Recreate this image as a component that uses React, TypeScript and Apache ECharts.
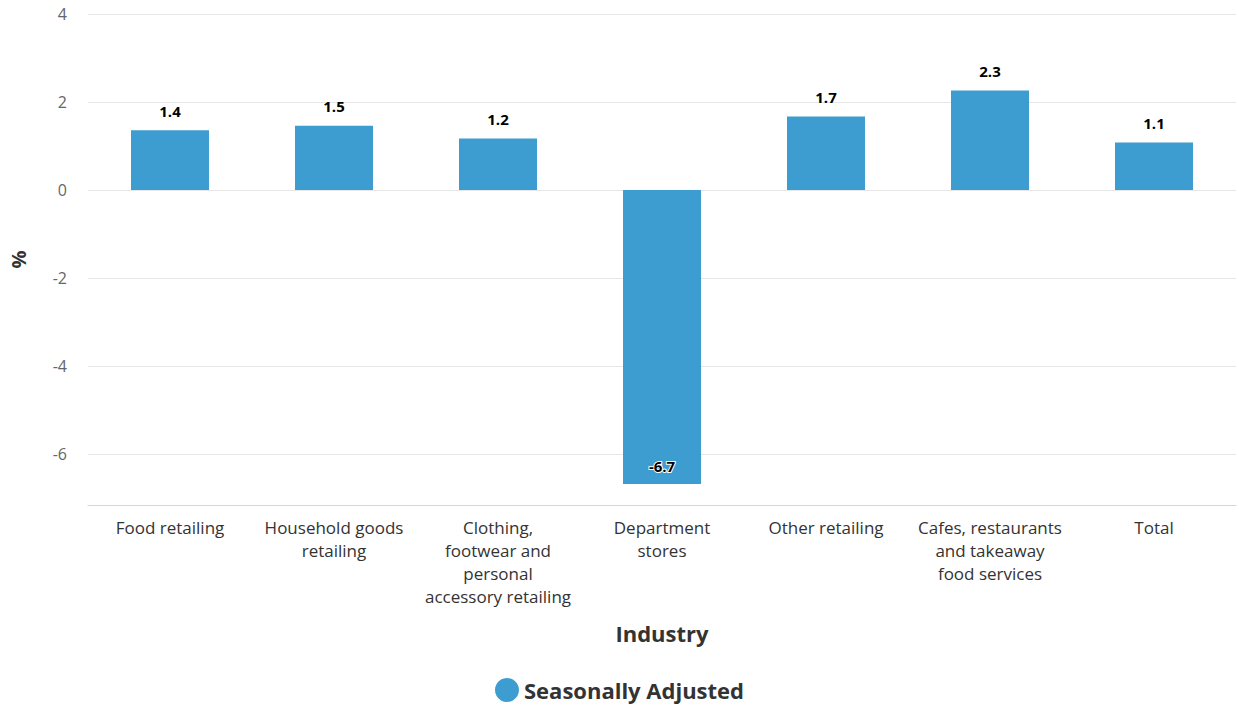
import React, { useEffect, useRef } from "react";
import * as echarts from "echarts";

const categories = [
  "Food retailing",
  "Household goods\nretailing",
  "Clothing,\nfootwear and\npersonal\naccessory retailing",
  "Department\nstores",
  "Other retailing",
  "Cafes, restaurants\nand takeaway\nfood services",
  "Total",
];
const values = [1.36, 1.46, 1.17, -6.68, 1.67, 2.26, 1.08];
const yTicks = [-6, -4, -2, 0, 2, 4];
const seriesName = "Seasonally Adjusted";

const FONT = "'Open Sans', 'Noto Sans', sans-serif";

export default function App() {
  const ref = useRef<HTMLDivElement>(null);
  useEffect(() => {
    if (!ref.current) return;
    const chart = echarts.init(ref.current, null, { renderer: "svg" });
    chart.setOption({
      animation: false,
      textStyle: { fontFamily: FONT },
      legend: {
        bottom: 4,
        left: "center",
        icon: "circle",
        itemWidth: 24,
        itemHeight: 24,
        itemGap: 8,
        textStyle: { fontSize: 22, fontWeight: "bold", color: "#333", fontFamily: FONT },
        data: [seriesName],
      },
      grid: { left: 81, right: 3, top: 14, bottom: 206, containLabel: false },
      xAxis: {
        type: "category",
        data: categories,
        name: "Industry",
        nameLocation: "middle",
        nameGap: 117,
        nameTextStyle: { fontSize: 22, fontWeight: "bold", color: "#333", fontFamily: FONT },
        axisLine: { onZero: false, lineStyle: { color: "#ccd6eb", width: 1 } },
        axisTick: { show: false },
        axisLabel: {
          interval: 0,
          fontSize: 17,
          color: "#333",
          lineHeight: 23,
          margin: 11,
          verticalAlign: "top",
          fontFamily: FONT,
        },
      },
      yAxis: {
        type: "value",
        min: -7.16,
        max: 4,
        name: "%",
        nameLocation: "middle",
        nameGap: 60,
        nameRotate: 90,
        nameTextStyle: { fontSize: 20, fontWeight: "bold", color: "#333", fontFamily: FONT },
        axisLine: { show: false },
        axisTick: { show: false },
        splitLine: { show: false },
        axisLabel: {
          customValues: yTicks,
          fontSize: 16,
          color: "#666",
          margin: 21,
          fontFamily: FONT,
        },
      },
      series: [
        {
          name: seriesName,
          type: "bar",
          barWidth: 78,
          itemStyle: { color: "#3d9dd1" },
          data: values.map((v) =>
            v < 0
              ? {
                  value: v,
                  label: {
                    position: "insideBottom",
                    distance: 10,
                    color: "#000",
                    textBorderColor: "#fff",
                    textBorderWidth: 2,
                  },
                }
              : v
          ),
          label: {
            show: true,
            position: "top",
            distance: 12,
            fontSize: 15,
            fontWeight: "bold",
            color: "#000",
            fontFamily: FONT,
            formatter: (p: any) => Number(p.value).toFixed(1),
          },
          markLine: {
            silent: true,
            symbol: "none",
            label: { show: false },
            lineStyle: { color: "#e6e6e6", type: "solid", width: 1 },
            data: yTicks.map((t) => ({ yAxis: t })),
            z: 0,
          },
          z: 2,
        },
      ],
    });
    return () => chart.dispose();
  }, []);
  return (
    <div
      ref={ref}
      style={{ position: "absolute", left: 0, top: 0, width: 1239, height: 711 }}
    />
  );
}
